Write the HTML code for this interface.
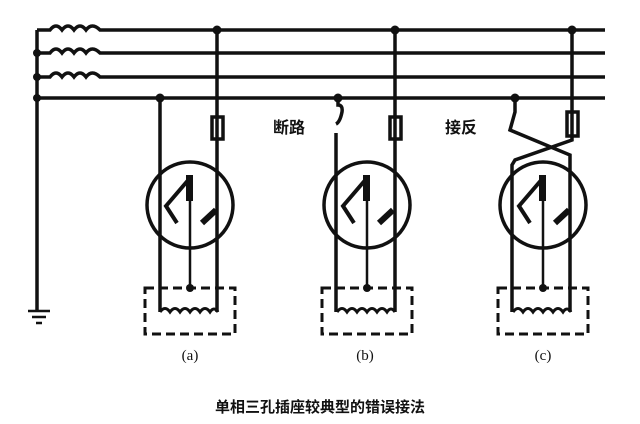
<!DOCTYPE html>
<html><head><meta charset="utf-8"><style>body{margin:0;background:#fff}</style></head><body>
<svg width="640" height="424" viewBox="0 0 640 424" xmlns="http://www.w3.org/2000/svg" style="display:block">
<defs>
<g id="sock">
  <circle cx="190" cy="205" r="43" fill="none" stroke="#111" stroke-width="3.5"/>
  <path d="M190 178 L166 206 L177 223" fill="none" stroke="#111" stroke-width="4"/>
  <rect x="186" y="175" width="7" height="26" fill="#111"/>
  <path d="M202 223 L216 210" stroke="#111" stroke-width="6"/>
  <line x1="190" y1="195" x2="190" y2="288" stroke="#111" stroke-width="2.5"/>
  <circle cx="190" cy="288" r="4" fill="#111"/>
  <rect x="145" y="288" width="90" height="46" fill="none" stroke="#111" stroke-width="3" stroke-dasharray="9,5"/>
  <path d="M160 312 q5 -7 10 0 q5 -7 10 0 q5 -7 10 0 q5 -7 10 0 q5 -7 10 0 q4 -6 8 0" fill="none" stroke="#111" stroke-width="3"/>
</g>
</defs>
<g stroke="#111" stroke-width="3.5" fill="none">
  <path d="M37 30 L37 310"/>
  <path d="M37 30 H50 q6 -8 12 0 q6 -8 12 0 q6 -8 12 0 q6 -8 14 0 H605"/>
  <path d="M37 53 H50 q6 -8 12 0 q6 -8 12 0 q6 -8 12 0 q6 -8 14 0 H605"/>
  <path d="M37 77 H50 q6 -8 12 0 q6 -8 12 0 q6 -8 12 0 q6 -8 14 0 H605"/>
  <path d="M37 98 H605"/>
  <path d="M28 311 H50 M32 317 H46 M36 323 H42" stroke-width="2.5"/>
  <path d="M160 98 V312 M217 30 V312"/>
  <rect x="212" y="117" width="11" height="22"/>
  <path d="M338 98 V105 q5 0 4 7 q-2 10 -6 12 M336 133 V312 M395 30 V312"/>
  <rect x="390" y="117" width="11" height="22"/>
  <path d="M515 98 V112 L510 130 L570 155 V165"/>
  <path d="M572 30 V140 L515 160 L512 165 V312 M570 165 V312"/>
  <rect x="567" y="112" width="11" height="24"/>
</g>
<g fill="#111">
  <circle cx="37" cy="53" r="4"/><circle cx="37" cy="77" r="4"/><circle cx="37" cy="98" r="4"/>
  <circle cx="217" cy="30" r="4.5"/><circle cx="160" cy="98" r="4.5"/>
  <circle cx="395" cy="30" r="4.5"/><circle cx="338" cy="98" r="4.5"/>
  <circle cx="572" cy="30" r="4.5"/><circle cx="515" cy="98" r="4.5"/>
</g>
<use href="#sock"/>
<use href="#sock" x="177"/>
<use href="#sock" x="353"/>
<g font-family="Liberation Serif, serif" font-size="15" fill="#111" text-anchor="middle">
  <text x="190" y="360">(a)</text><text x="365" y="360">(b)</text><text x="543" y="360">(c)</text>
</g>
<g font-family="Liberation Sans, Noto Sans CJK SC, sans-serif" font-size="16" fill="#111" font-weight="bold">
  <text x="273" y="133">断路</text><text x="445" y="133">接反</text>
  <text x="320" y="412" text-anchor="middle" font-size="15">单相三孔插座较典型的错误接法</text>
</g>
</svg>
</body></html>
